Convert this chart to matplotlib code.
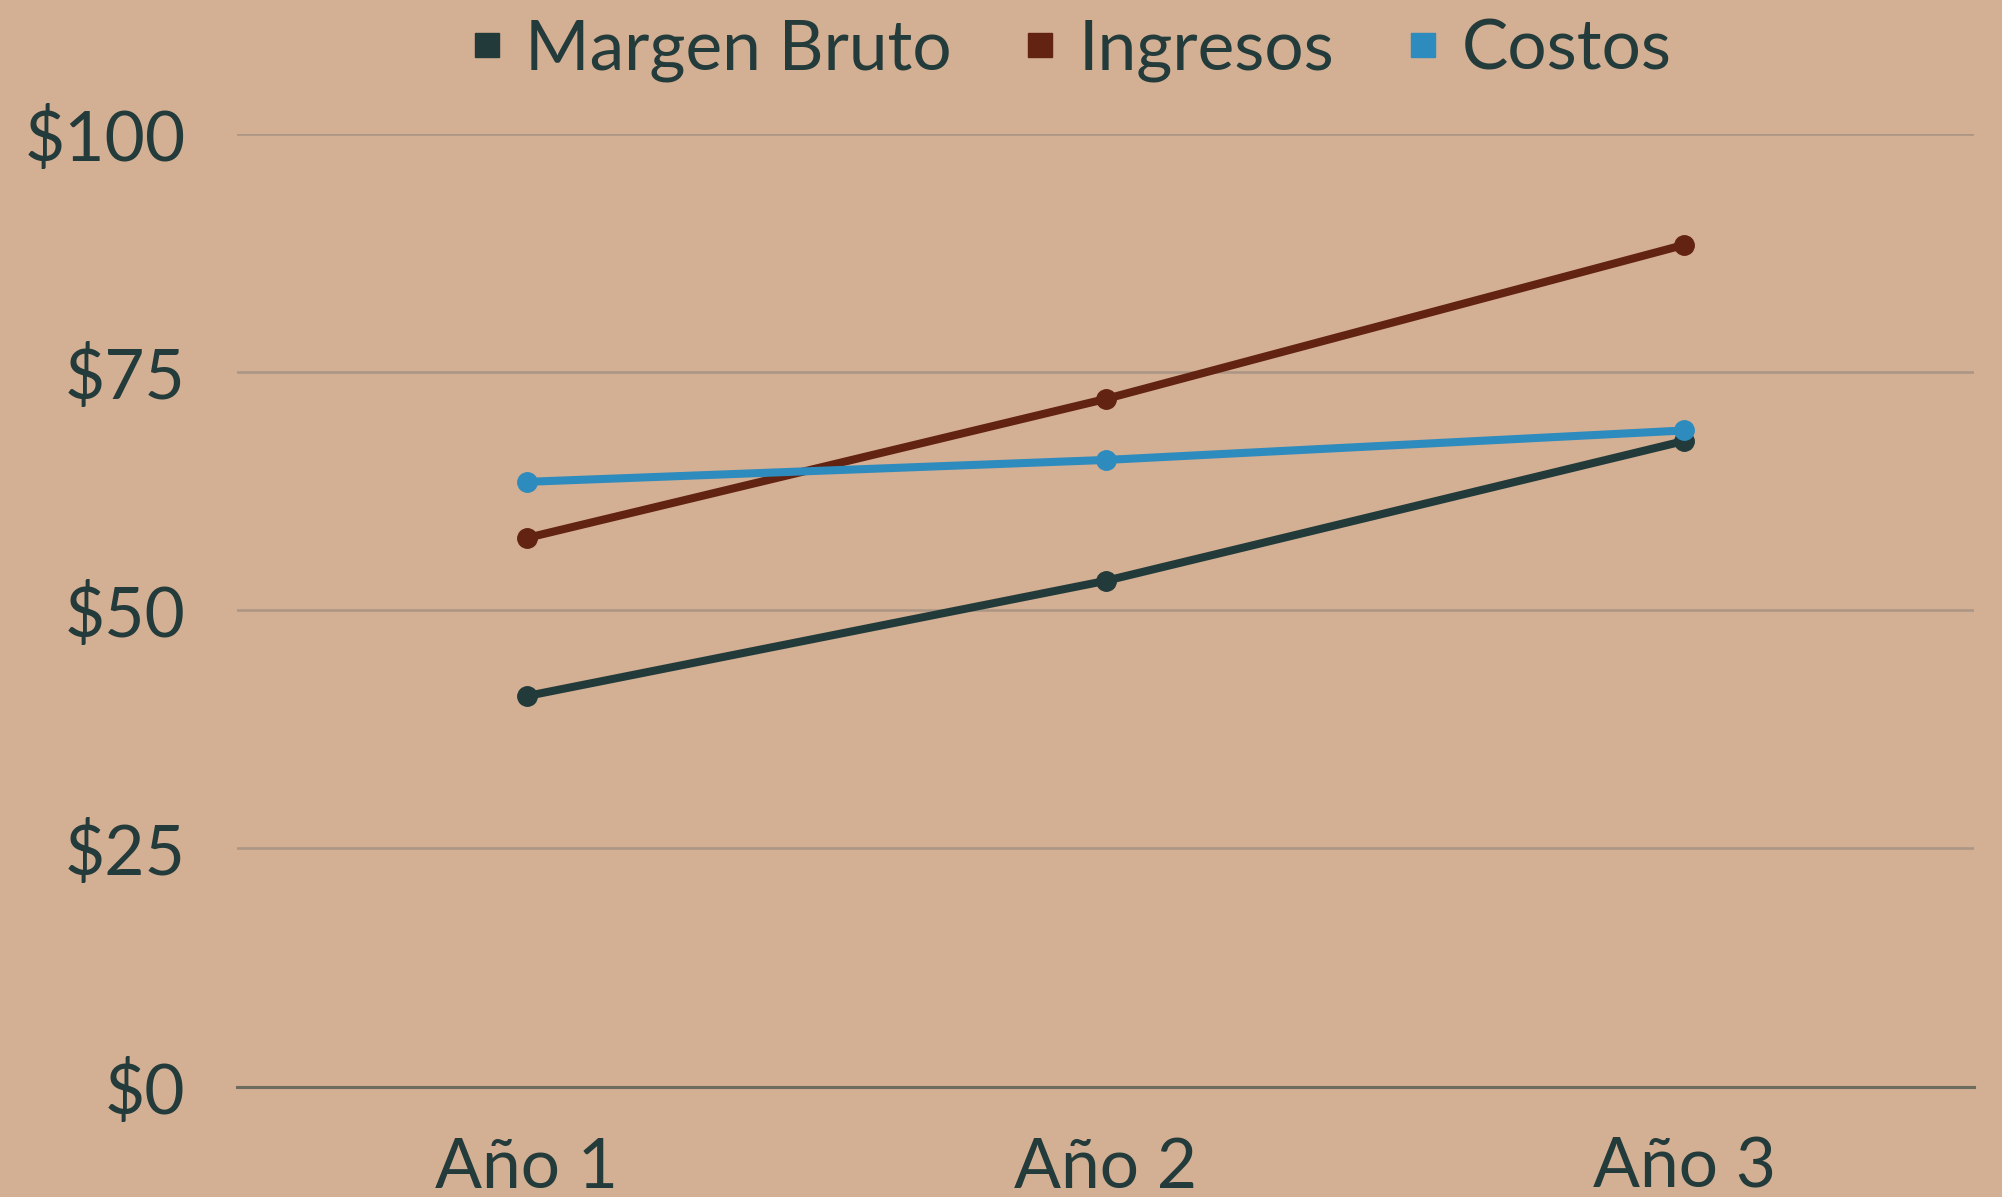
import matplotlib.pyplot as plt
from matplotlib.lines import Line2D

# Chart data
years = ['Año 1', 'Año 2', 'Año 3']
margen_bruto = [41.0, 53.1, 67.8]
ingresos = [57.6, 72.2, 88.4]
costos = [63.5, 65.8, 68.9]
y_ticks = [0, 25, 50, 75, 100]

bg = '#D3AF93'
text_color = '#233B3A'
colors = {'Margen Bruto': '#223B3A', 'Ingresos': '#622312', 'Costos': '#2E8BBE'}

plt.rcParams['font.family'] = ['Lato', 'DejaVu Sans']

fig = plt.figure(figsize=(20.02, 11.97), dpi=100, facecolor=bg)
ax = fig.add_axes([0.1184, 0.0923, 0.8676, 0.7955], facecolor=bg)

x = list(range(len(years)))
for name, vals in [('Margen Bruto', margen_bruto), ('Ingresos', ingresos), ('Costos', costos)]:
    ax.plot(x, vals, color=colors[name], linewidth=5.8, marker='o',
            markersize=14, solid_capstyle='round', zorder=3)

ax.set_xlim(-0.5, 2.5)
ax.set_ylim(0, 100)
ax.set_yticks(y_ticks)
ax.set_yticklabels([f'${v}' for v in y_ticks])
ax.set_xticks(x)
ax.set_xticklabels(years)

# Gridlines and baseline
for v in y_ticks:
    if v == 0:
        ax.axhline(v, color='#6B6B5E', linewidth=2.2, zorder=2, clip_on=False)
    else:
        ax.axhline(v, color='#AB9584', linewidth=1.8, zorder=1)

for side in ax.spines.values():
    side.set_visible(False)
ax.tick_params(axis='both', length=0, labelsize=50, colors=text_color)
ax.tick_params(axis='y', pad=37)
ax.tick_params(axis='x', pad=36)

# Legend with square markers
handles = [Line2D([0], [0], marker='s', linestyle='none', markersize=17,
                  markerfacecolor=c, markeredgecolor=c) for c in colors.values()]
fig.legend(handles, list(colors.keys()), loc='center', ncol=3,
           bbox_to_anchor=(0.532, 0.958), frameon=False, fontsize=50,
           labelcolor=text_color, handletextpad=0.15, columnspacing=0.88,
           handlelength=0.8)

plt.savefig('out.png', dpi=100, facecolor=bg)
